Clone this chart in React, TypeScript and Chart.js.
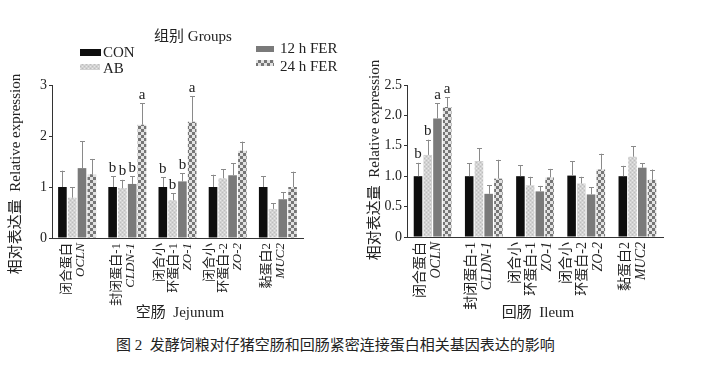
import React, { useEffect, useRef } from "react";
import { Chart, registerables } from "chart.js";

Chart.register(...registerables);

// ---------- data ----------
const categoryLabels: string[][] = [
  ["闭合蛋白", "OCLN"],
  ["封闭蛋白-1", "CLDN-1"],
  ["闭合小", "环蛋白-1", "ZO-1"],
  ["闭合小", "环蛋白-2", "ZO-2"],
  ["黏蛋白2", "MUC2"],
];
const groupNames = ["CON", "AB", "12 h FER", "24 h FER"];

// Jejunum (空肠)
const jejunumCON = [1.0, 1.0, 1.0, 1.0, 1.0];
const jejunumAB = [0.79, 0.98, 0.74, 1.17, 0.57];
const jejunum12h = [1.37, 1.06, 1.11, 1.23, 0.76];
const jejunum24h = [1.25, 2.22, 2.28, 1.71, 1.0];
const jejunumCONsd = [0.32, 0.21, 0.19, 0.24, 0.21];
const jejunumABsd = [0.21, 0.16, 0.14, 0.18, 0.11];
const jejunum12hSd = [0.53, 0.15, 0.16, 0.24, 0.14];
const jejunum24hSd = [0.3, 0.42, 0.5, 0.18, 0.3];
const jejunumLetters = [
  ["", "", "", ""],
  ["b", "b", "b", "a"],
  ["b", "b", "b", "a"],
  ["", "", "", ""],
  ["", "", "", ""],
];
const jejunumTicks = [0, 1, 2, 3];
const jejunumTickLabels = ["0", "1", "2", "3"];

// Ileum (回肠)
const ileumCON = [1.0, 1.0, 1.0, 1.01, 1.0];
const ileumAB = [1.35, 1.25, 0.85, 0.88, 1.32];
const ileum12h = [1.95, 0.71, 0.75, 0.7, 1.14];
const ileum24h = [2.14, 0.96, 0.98, 1.11, 0.94];
const ileumCONsd = [0.22, 0.21, 0.18, 0.24, 0.17];
const ileumABsd = [0.25, 0.21, 0.14, 0.11, 0.17];
const ileum12hSd = [0.25, 0.14, 0.09, 0.12, 0.07];
const ileum24hSd = [0.16, 0.31, 0.14, 0.26, 0.17];
const ileumLetters = [
  ["b", "b", "a", "a"],
  ["", "", "", ""],
  ["", "", "", ""],
  ["", "", "", ""],
  ["", "", "", ""],
];
const ileumTicks = [0, 0.5, 1, 1.5, 2, 2.5];
const ileumTickLabels = ["0", "0.5", "1.0", "1.5", "2.0", "2.5"];

const yTitleText = "相对表达量  Relative expression";
const legendTitle = "组别 Groups";
const caption = "图 2  发酵饲粮对仔猪空肠和回肠紧密连接蛋白相关基因表达的影响";

// ---------- styling ----------
const SERIF = "'Liberation Serif', 'Noto Sans CJK SC', serif";
const TEXT = "#222";

function makePatterns() {
  const ab = document.createElement("canvas");
  ab.width = 4;
  ab.height = 4;
  let c = ab.getContext("2d")!;
  c.fillStyle = "#d2d2d2";
  c.fillRect(0, 0, 4, 4);
  c.fillStyle = "#e8e8e8";
  c.fillRect(0, 0, 1, 1);
  c.fillRect(2, 2, 1, 1);
  c.fillStyle = "#bdbdbd";
  c.fillRect(2, 0, 1, 1);
  c.fillRect(0, 2, 1, 1);
  const chk = document.createElement("canvas");
  chk.width = 6;
  chk.height = 6;
  c = chk.getContext("2d")!;
  c.fillStyle = "#e2e2e2";
  c.fillRect(0, 0, 6, 6);
  c.fillStyle = "#767676";
  c.fillRect(0, 0, 3, 3);
  c.fillRect(3, 3, 3, 3);
  const ctx = document.createElement("canvas").getContext("2d")!;
  return {
    ab: ctx.createPattern(ab, "repeat")!,
    chk: ctx.createPattern(chk, "repeat")!,
  };
}

type PanelSpec = {
  left: number;
  width: number;
  height: number;
  yAxisWidth: number;
  padRight: number;
  padTop: number;
  xAxisHeight: number;
  yMax: number;
  ticks: number[];
  tickLabels: string[];
  values: number[][];
  sds: number[][];
  letters: string[][];
  xTitle: string;
  xTitleX: number;
  yTitleX: number;
  yTitleY: number;
  labelFont: number;
  labelSpacing: number;
  catPct: number;
  showLegend: boolean;
};

function isLatin(s: string) {
  return /^[A-Za-z0-9\- ]+$/.test(s);
}

function ChartPanel({ spec }: { spec: PanelSpec }) {
  const ref = useRef<HTMLCanvasElement>(null);
  useEffect(() => {
    const canvas = ref.current!;
    const pats = makePatterns();
    const colors: any[] = ["#0e0e0e", pats.ab, "#7a7a7a", pats.chk];

    const overlay = {
      id: "overlay",
      afterDatasetsDraw(chart: any) {
        const ctx = chart.ctx;
        const ys = chart.scales.y;
        ctx.save();
        for (let d = 0; d < spec.values.length; d++) {
          const meta = chart.getDatasetMeta(d);
          meta.data.forEach((bar: any, j: number) => {
            const top = ys.getPixelForValue(spec.values[d][j] + spec.sds[d][j]);
            const x = Math.round(bar.x) + 0.5;
            ctx.strokeStyle = "#8a8a8a";
            ctx.lineWidth = 1;
            ctx.beginPath();
            ctx.moveTo(x, bar.y);
            ctx.lineTo(x, top);
            ctx.moveTo(x - 2.5, Math.round(top) + 0.5);
            ctx.lineTo(x + 2.5, Math.round(top) + 0.5);
            ctx.stroke();
            const letter = spec.letters[j][d];
            if (letter) {
              ctx.fillStyle = TEXT;
              ctx.font = `15px ${SERIF}`;
              ctx.textAlign = "center";
              ctx.textBaseline = "bottom";
              ctx.fillText(letter, bar.x, top - 1);
            }
          });
        }
        ctx.restore();
      },
      afterDraw(chart: any) {
        const ctx = chart.ctx;
        const xs = chart.scales.x;
        const bottom = chart.chartArea.bottom;
        ctx.save();
        ctx.fillStyle = TEXT;
        // category labels (rotated)
        categoryLabels.forEach((lines, i) => {
          const cx = xs.getPixelForValue(i);
          const n = lines.length;
          lines.forEach((line, k) => {
            const lx = cx - 4 + (k - (n - 1) / 2) * spec.labelSpacing;
            ctx.save();
            ctx.translate(lx, bottom + 5);
            ctx.rotate(-Math.PI / 2);
            ctx.textAlign = "right";
            ctx.textBaseline = "middle";
            ctx.font = isLatin(line)
              ? `italic ${spec.labelFont}px ${SERIF}`
              : `${spec.labelFont}px ${SERIF}`;
            ctx.fillText(line, 0, 0);
            ctx.restore();
          });
        });
        // x title
        ctx.font = `15px ${SERIF}`;
        ctx.textAlign = "center";
        ctx.textBaseline = "middle";
        ctx.fillText(spec.xTitle, spec.xTitleX, 313);
        // y title
        ctx.save();
        ctx.translate(spec.yTitleX, spec.yTitleY);
        ctx.rotate(-Math.PI / 2);
        ctx.font = `15px ${SERIF}`;
        ctx.textAlign = "center";
        ctx.textBaseline = "middle";
        ctx.fillText(yTitleText, 0, 0);
        ctx.restore();
        // legend
        if (spec.showLegend) {
          ctx.font = `15px ${SERIF}`;
          ctx.textAlign = "center";
          ctx.textBaseline = "middle";
          ctx.fillText(legendTitle, 193, 37);
          const items = [
            { sx: 80, sy: 49, sw: 21, sh: 7, tx: 103, ty: 53 },
            { sx: 80, sy: 64, sw: 20, sh: 6, tx: 103, ty: 69 },
            { sx: 256, sy: 46, sw: 18, sh: 6, tx: 280, ty: 49 },
            { sx: 256, sy: 60, sw: 18, sh: 6, tx: 280, ty: 67 },
          ];
          items.forEach((it, g) => {
            ctx.fillStyle = colors[g];
            ctx.fillRect(it.sx, it.sy, it.sw, it.sh);
            ctx.fillStyle = TEXT;
            ctx.textAlign = "left";
            ctx.fillText(groupNames[g], it.tx, it.ty);
          });
        }
        ctx.restore();
      },
    };

    const chart = new Chart(canvas, {
      type: "bar",
      data: {
        labels: categoryLabels.map((l) => l.join(" ")),
        datasets: groupNames.map((name, g) => ({
          label: name,
          data: spec.values[g],
          backgroundColor: colors[g],
          borderWidth: 0,
          categoryPercentage: spec.catPct,
          barPercentage: 0.88,
        })),
      },
      options: {
        animation: false,
        responsive: false,
        maintainAspectRatio: false,
        layout: {
          padding: { left: 0, right: spec.padRight, top: spec.padTop, bottom: 0 },
        },
        plugins: {
          legend: { display: false },
          tooltip: { enabled: false },
          title: { display: false },
        },
        scales: {
          x: {
            grid: { display: false },
            border: { display: true, color: "#333", width: 1 },
            ticks: { display: false },
            afterFit(s: any) {
              s.height = spec.xAxisHeight;
            },
          },
          y: {
            min: 0,
            max: spec.yMax,
            afterBuildTicks(s: any) {
              s.ticks = spec.ticks.map((v) => ({ value: v }));
            },
            ticks: {
              color: TEXT,
              font: { family: SERIF, size: 14 },
              padding: 2,
              callback: (_v: any, i: number) => spec.tickLabels[i],
            },
            grid: {
              drawOnChartArea: false,
              drawTicks: true,
              tickLength: 3,
              color: "#333",
            },
            border: { display: true, color: "#333", width: 1 },
            afterFit(s: any) {
              s.width = spec.yAxisWidth;
            },
          },
        },
      } as any,
      plugins: [overlay],
    });
    return () => chart.destroy();
  }, [spec]);
  return (
    <canvas
      ref={ref}
      width={spec.width}
      height={spec.height}
      style={{ position: "absolute", left: spec.left, top: 0, width: spec.width, height: spec.height }}
    />
  );
}

const jejunumSpec: PanelSpec = {
  left: 0,
  width: 352,
  height: 330,
  yAxisWidth: 52,
  padRight: 49,
  padTop: 85,
  xAxisHeight: 92,
  yMax: 3,
  ticks: jejunumTicks,
  tickLabels: jejunumTickLabels,
  values: [jejunumCON, jejunumAB, jejunum12h, jejunum24h],
  sds: [jejunumCONsd, jejunumABsd, jejunum12hSd, jejunum24hSd],
  letters: jejunumLetters,
  xTitle: "空肠  Jejunum",
  xTitleX: 180,
  yTitleX: 16,
  yTitleY: 174,
  labelFont: 13,
  labelSpacing: 14,
  catPct: 0.78,
  showLegend: true,
};

const ileumSpec: PanelSpec = {
  left: 352,
  width: 352,
  height: 330,
  yAxisWidth: 55,
  padRight: 41,
  padTop: 85,
  xAxisHeight: 93,
  yMax: 2.5,
  ticks: ileumTicks,
  tickLabels: ileumTickLabels,
  values: [ileumCON, ileumAB, ileum12h, ileum24h],
  sds: [ileumCONsd, ileumABsd, ileum12hSd, ileum24hSd],
  letters: ileumLetters,
  xTitle: "回肠  Ileum",
  xTitleX: 538 - 352,
  yTitleX: 23,
  yTitleY: 160,
  labelFont: 14,
  labelSpacing: 16,
  catPct: 0.76,
  showLegend: false,
};

export default function App() {
  return (
    <div
      style={{
        position: "absolute",
        left: 0,
        top: 0,
        width: 704,
        height: 385,
        background: "#fff",
        overflow: "hidden",
      }}
    >
      <ChartPanel spec={jejunumSpec} />
      <ChartPanel spec={ileumSpec} />
      <div
        style={{
          position: "absolute",
          left: 0,
          width: 671,
          top: 335,
          textAlign: "center",
          fontFamily: SERIF,
          fontSize: 15,
          color: TEXT,
          whiteSpace: "pre",
          lineHeight: "20px",
        }}
      >
        {caption}
      </div>
    </div>
  );
}
